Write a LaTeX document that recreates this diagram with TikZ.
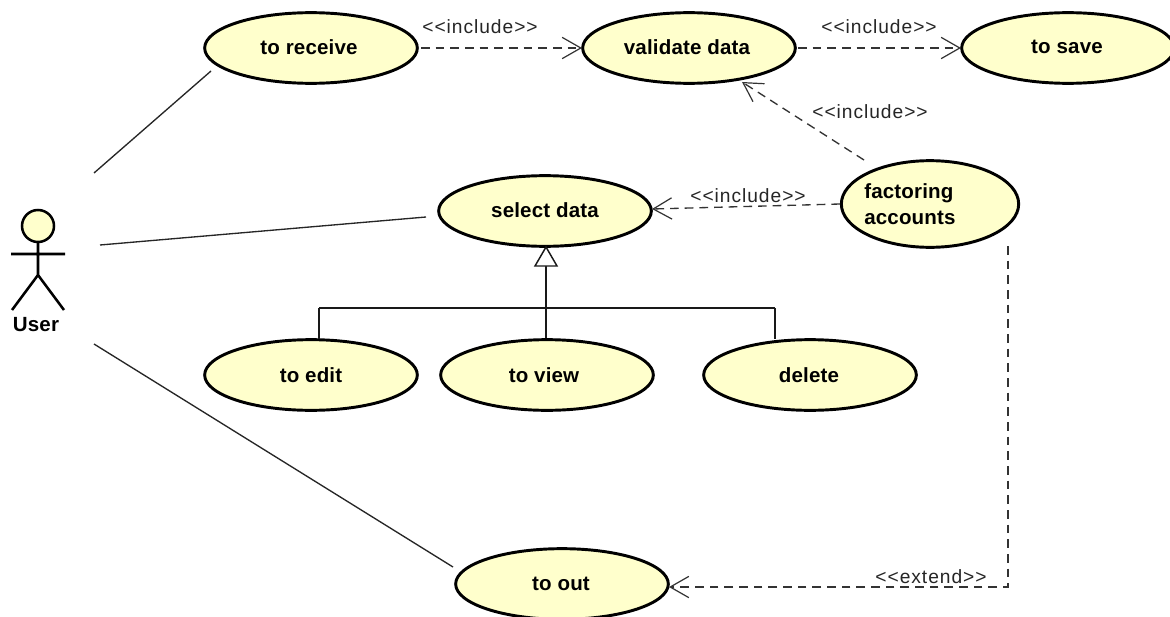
\documentclass[tikz,border=0pt]{standalone}
\usepackage{fontspec}
\setmainfont{Liberation Sans}
\newfontfamily\ucfont[LetterSpace=0.8]{Liberation Sans Bold}
\newfontfamily\labfont[LetterSpace=5]{Liberation Sans}
\usetikzlibrary{arrows.meta,shapes.geometric}
\definecolor{uc}{HTML}{FFFFCC}
\tikzset{
 x=0.75pt,y=-0.75pt,
 usecase/.style={ellipse,draw=black,line width=2.2pt,fill=uc,minimum width=159.5pt,minimum height=53pt,inner sep=0pt},
 uctext/.style={font=\ucfont\fontsize{15.4}{19.5}\selectfont,text=black,inner sep=0pt},
 assoc/.style={draw=black!85,line width=1pt},
 dep/.style={draw=black!80,line width=1pt,dash pattern=on 6.5pt off 4.5pt,-{Straight Barb[length=14pt,width=16pt,line width=0.9pt]}},
 lab/.style={font=\labfont\fontsize{14.4}{15}\selectfont,text=black!85,inner sep=0pt},
 gen/.style={draw=black!90,line width=1.1pt},
}
\begin{document}
\begin{tikzpicture}
\useasboundingbox (0,0) rectangle (1170,617);
\fill[white] (0,0) rectangle (1170,617);
\node[usecase] (receive) at (311,48) {};
\node[usecase] (validate) at (689,48) {};
\node[usecase] (save) at (1068,48) {};
\node[usecase] (select) at (545,211) {};
\node[usecase,minimum width=133pt,minimum height=65pt] (factoring) at (930,204) {};
\node[usecase] (edit) at (311,375) {};
\node[usecase] (view) at (547,375) {};
\node[usecase] (delete) at (810,375) {};
\node[usecase] (out) at (562,584) {};
\node[uctext] (treceive) at (309,47) {to receive};
\node[uctext] (tvalidate) at (687,47) {validate data};
\node[uctext] (tsave) at (1067,47) {to save};
\node[uctext] (tselect) at (545,210) {select data};
\node[uctext,anchor=west,align=left] (tfact) at (864,204) {factoring\\accounts};
\node[uctext] (tedit) at (311,375) {to edit};
\node[uctext] (tview) at (544,375) {to view};
\node[uctext] (tdelete) at (809,375) {delete};
\node[uctext] (tout) at (561,584) {to out};
% actor
\coordinate (head) at (38,226);
\coordinate (neck) at (38,243);
\coordinate (hip) at (38,275);
\coordinate (armL) at (11,254);
\coordinate (armR) at (65,254);
\coordinate (legL) at (12,310);
\coordinate (legR) at (64,310);
\draw[line width=1.9pt,fill=uc] (head) circle (16);
\draw[line width=1.9pt] (neck)--(hip) (armL)--(armR) (legL)--(hip)--(legR);
\node[uctext] (user) at (36,325) {User};
\coordinate (u1) at (94,173);
\coordinate (u1e) at (211,71);
\coordinate (u2) at (100,245);
\coordinate (u2e) at (426,217);
\coordinate (u3) at (94,344);
\coordinate (u3e) at (453,567);
\draw[assoc] (u1)--(u1e);
\draw[assoc] (u2)--(u2e);
\draw[assoc] (u3)--(u3e);
% dependencies
\coordinate (r1) at (421,48);
\coordinate (v1) at (582,48);
\draw[dep] (r1)--(v1);
\coordinate (v2) at (798,48);
\coordinate (s1) at (961,48);
\draw[dep] (v2)--(s1);
\coordinate (f1) at (864,160);
\coordinate (v3) at (742,82);
\draw[dep] (f1)--(v3);
\coordinate (f2) at (840,204);
\coordinate (se) at (652,209);
\draw[dep] (f2)--(se);
\coordinate (f3) at (1008,246);
\coordinate (corner) at (1008,587);
\coordinate (oe) at (669,587);
\draw[dep] (f3)--(corner)--(oe);
% generalization
\coordinate (bus) at (546,308);
\coordinate (ev) at (319,308);
\coordinate (dv) at (775,308);
\coordinate (tri) at (546,266);
\coordinate (tl) at (535,266);
\coordinate (tr) at (557,266);
\coordinate (tt) at (546,247);
\draw[gen] (ev)--(dv);
\draw[gen] (ev)--(319,339);
\draw[gen] (dv)--(775,339);
\draw[gen] (tri)--(546,338);
\draw[gen,fill=white] (tt)--(tl)--(tr)--cycle;
% labels
\node[lab] (l1) at (480,27) {<{}<include>{}>};
\node[lab] (l2) at (879,27) {<{}<include>{}>};
\node[lab] (l3) at (870,112) {<{}<include>{}>};
\node[lab] (l4) at (748,196) {<{}<include>{}>};
\node[lab] (l5) at (931,577) {<{}<extend>{}>};
\end{tikzpicture}
\end{document}
